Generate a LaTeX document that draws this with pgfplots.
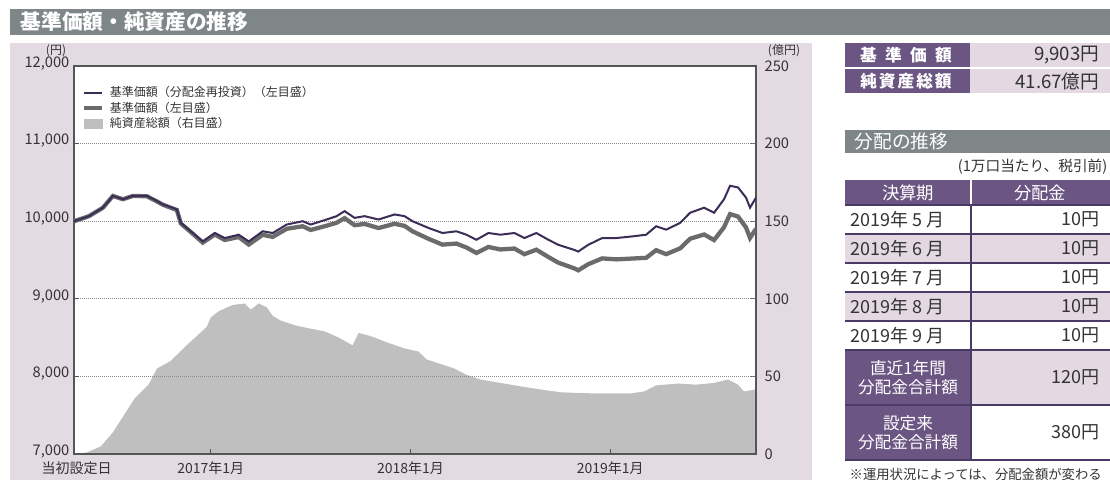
\documentclass[border=0pt]{standalone}
\usepackage{fontspec}
\setmainfont{Noto Sans CJK JP}
\usepackage{pgfplots}
\pgfplotsset{compat=1.18}
\usepackage{pgfplotstable}

\definecolor{panel}{HTML}{E4DAE2}
\definecolor{titlegray}{HTML}{7F8688}
\definecolor{areagray}{HTML}{BFBFBF}
\definecolor{purpleline}{HTML}{3B2D58}
\definecolor{navgray}{HTML}{6B6B6B}
\definecolor{framegray}{HTML}{555555}
\definecolor{gridgray}{HTML}{8A8A8A}
\definecolor{tpurple}{HTML}{6B5683}
\definecolor{tlav}{HTML}{E4D9E2}
\definecolor{tline}{HTML}{4A3A66}
\definecolor{txt}{HTML}{333333}

\newcommand\fs[1]{\fontsize{#1bp}{#1bp}\selectfont}

% 基準価額 (分配金再投資) and 基準価額, yen
\pgfplotstableread{
date reinv nav
2016.315 10000 10000
2016.39 10065 10065
2016.46 10174 10174
2016.51 10326 10326
2016.56 10283 10283
2016.61 10326 10326
2016.68 10326 10321
2016.73 10260 10255
2016.76 10217 10212
2016.83 10152 10144
2016.85 9978 9970
2016.90 9870 9860
2016.96 9739 9724
2017.02 9848 9828
2017.07 9783 9758
2017.14 9826 9796
2017.19 9739 9699
2017.26 9870 9825
2017.31 9848 9798
2017.38 9957 9902
2017.46 10000 9935
2017.50 9957 9887
2017.58 10022 9942
2017.63 10065 9980
2017.67 10130 10040
2017.72 10043 9948
2017.77 10065 9965
2017.84 10022 9912
2017.92 10087 9967
2017.97 10065 9940
2018.01 10000 9870
2018.09 9913 9773
2018.16 9848 9698
2018.23 9870 9712
2018.28 9826 9661
2018.33 9761 9591
2018.39 9848 9668
2018.45 9826 9636
2018.52 9848 9648
2018.57 9783 9575
2018.63 9848 9633
2018.69 9761 9539
2018.74 9696 9466
2018.82 9630 9392
2018.84 9609 9367
2018.89 9696 9446
2018.96 9783 9521
2019.03 9783 9508
2019.11 9804 9519
2019.18 9826 9528
2019.23 9935 9627
2019.28 9891 9575
2019.35 9978 9650
2019.40 10109 9774
2019.47 10174 9829
2019.52 10109 9757
2019.57 10283 9923
2019.60 10457 10092
2019.64 10435 10060
2019.68 10304 9919
2019.70 10174 9784
2019.73 10304 9903
}\navtable

% 純資産総額, 億円
\pgfplotstableread{
date aum
2016.315 0
2016.38 1
2016.45 5
2016.51 14
2016.56 24
2016.62 36
2016.69 45
2016.73 55
2016.80 60
2016.87 69
2016.93 76
2016.98 82
2017.00 88
2017.04 92
2017.11 96
2017.17 97
2017.20 93
2017.24 97
2017.28 94.5
2017.31 89
2017.35 86
2017.42 83
2017.49 81
2017.57 79
2017.64 75
2017.71 70
2017.74 78
2017.80 76
2017.88 72
2017.97 68
2018.04 66
2018.08 61
2018.15 58
2018.22 55
2018.28 51
2018.35 48
2018.44 46
2018.55 43.6
2018.66 41.4
2018.75 39.8
2018.86 39.2
2018.99 39
2019.10 39
2019.17 40.3
2019.23 44.2
2019.34 45.4
2019.43 44.7
2019.52 45.8
2019.59 48
2019.64 44.7
2019.67 40.3
2019.73 41.67
}\aumtable

\begin{document}
\begin{tikzpicture}
\begin{scope}[x=0.75bp,y=-0.75bp]
  \fill[panel] (10,43) rectangle (812,480);
  \fill[titlegray] (10,9) rectangle (1110,35);
  \node[anchor=west,text=white,font=\bfseries\fs{15.5}] at (16,22) {基準価額・純資産の推移};
  \node[text=txt,font=\fs{9}] at (56,51) {(円)};
  \node[text=txt,font=\fs{9}] at (784,51) {(億円)};

  % 基準価額 / 純資産総額
  \fill[tpurple] (845,43) rectangle (970,67);
  \fill[tlav] (970,43) rectangle (1110,67);
  \fill[tpurple] (845,69) rectangle (970,93);
  \fill[tlav] (970,69) rectangle (1110,93);
  \node[text=white,font=\bfseries\fs{12.5}] at (906,55) {基\hspace{0.5em}準\hspace{0.5em}価\hspace{0.5em}額};
  \node[text=white,font=\bfseries\fs{12.5}] at (906,81) {純\hspace{0.12em}資\hspace{0.12em}産\hspace{0.12em}総\hspace{0.12em}額};
  \node[anchor=east,text=txt,font=\fs{14}] at (1104,55) {9,903円};
  \node[anchor=east,text=txt,font=\fs{14}] at (1104,81) {41.67億円};

  % 分配の推移
  \fill[titlegray] (845,130) rectangle (1110,153);
  \node[anchor=west,text=white,font=\fs{14}] at (850,141.5) {分配の推移};
  \node[anchor=east,text=txt,font=\fs{11}] at (1112,167) {(1万口当たり、税引前)};

  \fill[tpurple] (845,180) rectangle (1110,205);
  \draw[white,line width=1bp] (971,180) -- (971,205);
  \node[text=white,font=\fs{13}] at (908,192.5) {決算期};
  \node[text=white,font=\fs{13}] at (1040,192.5) {分配金};
  \fill[tlav] (845,234) rectangle (1110,263);
  \fill[tlav] (845,292) rectangle (1110,321);
  \fill[tpurple] (845,350) rectangle (971,405);
  \fill[tlav] (971,350) rectangle (1110,405);
  \fill[tpurple] (845,405) rectangle (971,460);
  \foreach \y in {205,234,263,292,321,350,405,460}
    \draw[tline,line width=0.9bp] (845,\y) -- (1110,\y);
  \draw[tline,line width=0.9bp] (971,205) -- (971,460);
  \foreach \m/\y in {5/219.5,6/248.5,7/277.5,8/306.5,9/335.5}{
    \node[anchor=west,text=txt,font=\fs{13.5}] at (846,\y) {2019年 \m\ 月};
    \node[anchor=east,text=txt,font=\fs{13.5}] at (1104,\y) {10円};
  }
  \node[text=white,align=center,font=\fontsize{12.5bp}{14bp}\selectfont] at (908,377.5) {直近1年間\\分配金合計額};
  \node[anchor=east,text=txt,font=\fs{13.5}] at (1104,377.5) {120円};
  \node[text=white,align=center,font=\fontsize{12.5bp}{14bp}\selectfont] at (908,432.5) {設定来\\分配金合計額};
  \node[anchor=east,text=txt,font=\fs{13.5}] at (1104,432.5) {380円};
  \node[anchor=west,text=txt,font=\fs{10}] at (845,474) {※運用状況によっては、分配金額が変わる};
\end{scope}

% right axis: 純資産総額
\begin{axis}[
  at={(55.5bp,-340.5bp)}, anchor=south west,
  scale only axis, width=511.5bp, height=291bp,
  xmin=2016.315, xmax=2019.73, ymin=0, ymax=250,
  axis background/.style={fill=white},
  axis line style={draw=none},
  xtick=\empty,
  ytick={0,50,100,150,200,250},
  ytick pos=right,
  tick align=inside, major tick length=4bp,
  tick style={framegray,line width=1bp},
  yticklabel style={font=\fs{11},text=txt,xshift=3bp},
  /pgf/number format/assume math mode=true,
]
  \addplot[fill=areagray,draw=none] table[x=date,y=aum] {\aumtable} \closedcycle;
\end{axis}

% left axis: 基準価額
\begin{axis}[
  at={(55.5bp,-340.5bp)}, anchor=south west,
  scale only axis, width=511.5bp, height=291bp,
  xmin=2016.315, xmax=2019.73, ymin=7000, ymax=12000,
  scaled y ticks=false,
  ytick={7000,8000,...,12000}, ytick pos=left,
  xtick={2017,2018,2019}, xtick pos=bottom,
  xticklabels={2017年1月,2018年1月,2019年1月},
  extra x ticks={2016.315}, extra x tick labels={当初設定日},
  extra x tick style={major tick length=0pt,xticklabel style={xshift=2bp}},
  ymajorgrids,
  grid style={gridgray,line width=1bp,dash pattern=on 0.6bp off 0.9bp},
  axis line style={draw=framegray,line width=1bp},
  tick align=inside, major tick length=4bp,
  tick style={framegray,line width=1bp},
  yticklabel style={font=\fs{11},text=txt,yshift=2bp},
  xticklabel style={font=\fs{10.5},text=txt,yshift=-2.5bp},
  /pgf/number format/1000 sep={,},
  /pgf/number format/assume math mode=true,
  legend image code/.code={\draw[#1] (0bp,0bp) -- (13.5bp,0bp);},
  legend style={at={(0.012,0.955)},anchor=north west,draw=none,fill=none,
    font=\fs{9},text=txt,row sep=-1.5bp,inner sep=0pt,
    nodes={inner xsep=4bp}},
  legend cell align=left,
]
  \addlegendimage{draw=purpleline,line width=1.5bp}
  \addlegendentry{基準価額（分配金再投資）（左目盛）}
  \addlegendimage{draw=navgray,line width=3bp}
  \addlegendentry{基準価額（左目盛）}
  \addlegendimage{legend image code/.code={\fill[areagray] (0bp,-3.5bp) rectangle (13.5bp,3.5bp);}}
  \addlegendentry{純資産総額（右目盛）}
  \addplot[navgray,line width=3.2bp,forget plot] table[x=date,y=nav] {\navtable};
  \addplot[purpleline,line width=1.5bp,forget plot] table[x=date,y=reinv] {\navtable};
\end{axis}
\pgfresetboundingbox
\path[use as bounding box] (0bp,0bp) rectangle (832.5bp,-360bp);
\end{tikzpicture}
\end{document}
